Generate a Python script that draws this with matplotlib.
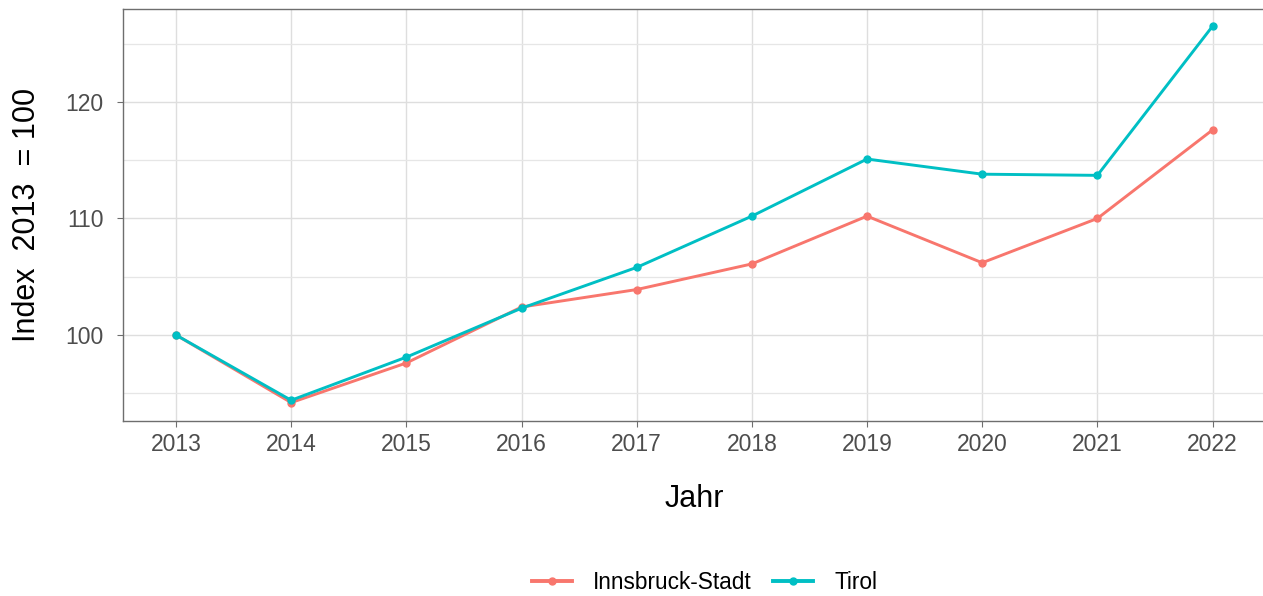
import matplotlib.pyplot as plt
from matplotlib.ticker import MultipleLocator

plt.rcParams["font.family"] = ["Liberation Sans", "DejaVu Sans"]

# values
years = [2013, 2014, 2015, 2016, 2017, 2018, 2019, 2020, 2021, 2022]
innsbruck = [100.0, 94.2, 97.6, 102.4, 103.9, 106.1, 110.2, 106.2, 110.0, 117.6]
tirol = [100.0, 94.4, 98.1, 102.3, 105.8, 110.2, 115.1, 113.8, 113.7, 126.5]

series_names = ["Innsbruck-Stadt", "Tirol"]
series_colors = ["#F8766D", "#00BFC4"]

fig = plt.figure(figsize=(12.63, 5.96), dpi=100)
ax = fig.add_axes([0.0974, 0.294, 0.9046, 0.691])

for vals, name, col in zip([innsbruck, tirol], series_names, series_colors):
    ax.plot(years, vals, color=col, lw=2.1, marker="o", ms=5, label=name, zorder=3)

ax.set_xlim(2012.54, 2022.46)
ax.set_ylim(92.64, 127.98)
ax.set_xticks(years)
ax.yaxis.set_major_locator(MultipleLocator(10))
ax.yaxis.set_minor_locator(MultipleLocator(5))

ax.grid(which="major", color="#DEDEDE", lw=1.0, zorder=0)
ax.grid(which="minor", axis="y", color="#E6E6E6", lw=0.9, zorder=0)

for side in ["left", "bottom", "top"]:
    ax.spines[side].set_color("#6E6E6E")
    ax.spines[side].set_linewidth(1.0)
ax.spines["right"].set_visible(False)

ax.tick_params(axis="both", which="major", length=4, color="#6E6E6E",
               labelsize=16.5, labelcolor="#4D4D4D")
ax.tick_params(axis="x", which="major", pad=5)
ax.tick_params(axis="y", which="major", pad=10)
ax.tick_params(axis="y", which="minor", length=0)

ax.set_xlabel("Jahr", fontsize=22, labelpad=20)
ax.set_ylabel("Index  2013  = 100", fontsize=22, labelpad=17)

leg = fig.legend(loc="center", bbox_to_anchor=(0.558, 0.022), ncol=2, frameon=False,
                 fontsize=16.3, handlelength=1.76, handletextpad=0.95,
                 columnspacing=0.95, markerscale=1.0)
for line in leg.get_lines():
    line.set_linewidth(2.8)

fig.savefig("out.png", dpi=100)
